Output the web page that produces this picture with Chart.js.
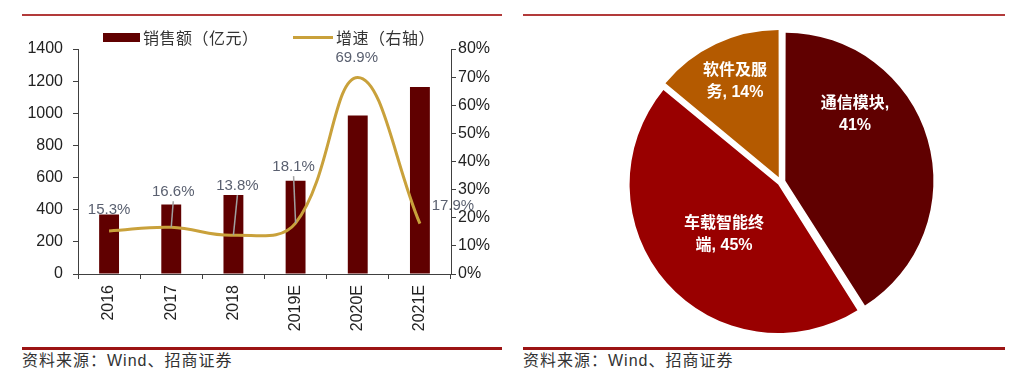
<!DOCTYPE html>
<html>
<head>
<meta charset="utf-8">
<script src="https://cdn.jsdelivr.net/npm/chart.js@4.4.0/dist/chart.umd.min.js"></script>
<style>
  body { margin: 0; background: #fff; width: 1024px; height: 382px; position: relative; overflow: hidden;
         font-family: 'Liberation Sans', 'Noto Sans CJK SC', sans-serif; color: #333; }
  .topline { position: absolute; top: 14px; height: 2px; background: #b23a3a; }
  .botline { position: absolute; top: 347px; height: 3px; background: #9c1414; }
  .source { position: absolute; top: 351px; font-size: 16px; letter-spacing: 1px; color: #333; line-height: 20px; }
  .legend { position: absolute; top: 28px; font-family: 'Noto Sans CJK SC', sans-serif; font-size: 16px;
            letter-spacing: 0.5px; color: #333; line-height: 18px; }
  .swatch { position: absolute; }
  canvas { position: absolute; top: 0; }
</style>
</head>
<body>
<div class="topline" style="left:22px;width:480px"></div>
<div class="topline" style="left:523px;width:482px"></div>

<canvas id="salesChart" width="512" height="345" style="left:0"></canvas>
<canvas id="shareChart" width="512" height="345" style="left:512px"></canvas>

<div class="swatch" style="left:103px;top:33px;width:37px;height:9px;background:#600000"></div>
<div class="legend" style="left:143px">销售额（亿元）</div>
<div class="swatch" style="left:293px;top:36px;width:40px;height:3px;background:#c9a13b"></div>
<div class="legend" style="left:336px">增速（右轴）</div>

<div class="botline" style="left:22px;width:480px"></div>
<div class="botline" style="left:523px;width:482px"></div>
<div class="source" style="left:22px">资料来源：Wind、招商证券</div>
<div class="source" style="left:523px">资料来源：Wind、招商证券</div>

<script>
// ---- data ----
const years = ['2016', '2017', '2018', '2019E', '2020E', '2021E'];
const sales = [370, 432, 492, 581, 987, 1163];          // 亿元
const growth = [15.3, 16.6, 13.8, 18.1, 69.9, 17.9];    // %
const salesTicks = { min: 0, max: 1400, step: 200 };
const growthTicks = { min: 0, max: 80, step: 10 };

const shareLabels = ['通信模块', '车载智能终端', '软件及服务'];
const shareValues = [41, 45, 14];

// ---- styles ----
const darkRed = '#600000';
const gold = '#c9a13b';
const axisColor = '#404040';
const tickFont = { family: "'Liberation Sans', Arial, sans-serif", size: 16 };

// label shift from each growth point (px)
const growthLabelShift = [[0, -21], [2, -35], [4, -49], [-2, -56], [-1, -20], [33, -18]];

const growthLabels = {
    id: 'growthLabels',
    afterDatasetsDraw(chart) {
        const ctx = chart.ctx;
        const meta = chart.getDatasetMeta(1);
        ctx.save();
        ctx.font = "15px 'Liberation Sans', Arial, sans-serif";
        ctx.textAlign = 'center';
        ctx.textBaseline = 'middle';
        meta.data.forEach((pt, i) => {
            const [dx, dy] = growthLabelShift[i];
            const lx = pt.x + dx, ly = pt.y + dy;
            if (dy < -30) {
                ctx.strokeStyle = '#a0a0a0';
                ctx.lineWidth = 1.5;
                ctx.beginPath();
                ctx.moveTo(lx, ly + 9);
                ctx.lineTo(pt.x, pt.y);
                ctx.stroke();
            }
            ctx.fillStyle = '#5a6070';
            ctx.fillText(growth[i].toFixed(1) + '%', lx, ly);
        });
        ctx.restore();
    }
};

new Chart(document.getElementById('salesChart'), {
    type: 'bar',
    data: {
        labels: years,
        datasets: [
            {
                type: 'bar',
                label: '销售额（亿元）',
                data: sales,
                backgroundColor: darkRed,
                yAxisID: 'y',
                barPercentage: 0.32,
                categoryPercentage: 1,
                order: 1
            },
            {
                type: 'line',
                label: '增速（右轴）',
                data: growth,
                borderColor: gold,
                borderWidth: 3,
                tension: 0.4,
                pointRadius: 0,
                fill: false,
                yAxisID: 'y1',
                order: 0
            }
        ]
    },
    options: {
        responsive: false,
        animation: false,
        devicePixelRatio: 1,
        layout: { padding: { top: 49, left: 0, right: 0, bottom: 0 } },
        plugins: { legend: { display: false }, tooltip: { enabled: false } },
        scales: {
            x: {
                grid: { drawOnChartArea: false, offset: true, tickLength: 5, color: axisColor },
                border: { color: axisColor },
                ticks: { minRotation: 90, maxRotation: 90, padding: 6, font: tickFont, color: '#222' },
                afterFit: s => { s.height = 71; }
            },
            y: {
                position: 'left',
                min: salesTicks.min,
                max: salesTicks.max,
                ticks: { stepSize: salesTicks.step, padding: 10, font: tickFont, color: '#222', callback: v => String(v) },
                grid: { drawOnChartArea: false, tickLength: 5, color: axisColor },
                border: { color: axisColor },
                afterFit: s => { s.width = 78; }
            },
            y1: {
                position: 'right',
                min: growthTicks.min,
                max: growthTicks.max,
                ticks: { stepSize: growthTicks.step, padding: 2, font: tickFont, color: '#222', callback: v => v + '%' },
                grid: { drawOnChartArea: false, tickLength: 5, color: axisColor },
                border: { color: axisColor },
                afterFit: s => { s.width = 61; }
            }
        }
    },
    plugins: [growthLabels]
});

// ---- pie ----
const shareColors = ['#600000', '#990000', '#b45a00'];
const shareOffsets = [18, 15, 21];
const shareLabelPos = [[0.507, -0.459], [-0.39, 0.36], [-0.315, -0.685]]; // fraction of radius from centre
const shareWrapAt = [5, 5, 4];

const shareLabelPlugin = {
    id: 'shareLabels',
    afterDatasetsDraw(chart) {
        const ctx = chart.ctx;
        const meta = chart.getDatasetMeta(0);
        ctx.save();
        ctx.fillStyle = '#ffffff';
        ctx.textAlign = 'center';
        ctx.textBaseline = 'middle';
        ctx.font = "bold 16px 'Liberation Sans', 'Noto Sans CJK SC', sans-serif";
        meta.data.forEach((arc, i) => {
            const r = arc.outerRadius;
            const cx = arc.x + shareLabelPos[i][0] * r;
            const cy = arc.y + shareLabelPos[i][1] * r;
            const text = shareLabels[i] + ', ' + shareValues[i] + '%';
            const lines = [text.slice(0, shareWrapAt[i]), text.slice(shareWrapAt[i]).trim()];
            ctx.fillText(lines[0], cx, cy - 11);
            ctx.fillText(lines[1], cx, cy + 11);
        });
        ctx.restore();
    }
};

new Chart(document.getElementById('shareChart'), {
    type: 'pie',
    data: {
        labels: shareLabels,
        datasets: [{
            data: shareValues,
            backgroundColor: shareColors,
            borderWidth: 0,
            offset: shareOffsets
        }]
    },
    options: {
        responsive: false,
        animation: false,
        devicePixelRatio: 1,
        radius: 146,
        layout: { padding: { left: 26, top: 19, right: 0, bottom: 0 } },
        plugins: { legend: { display: false }, tooltip: { enabled: false } }
    },
    plugins: [shareLabelPlugin]
});
</script>
</body>
</html>
